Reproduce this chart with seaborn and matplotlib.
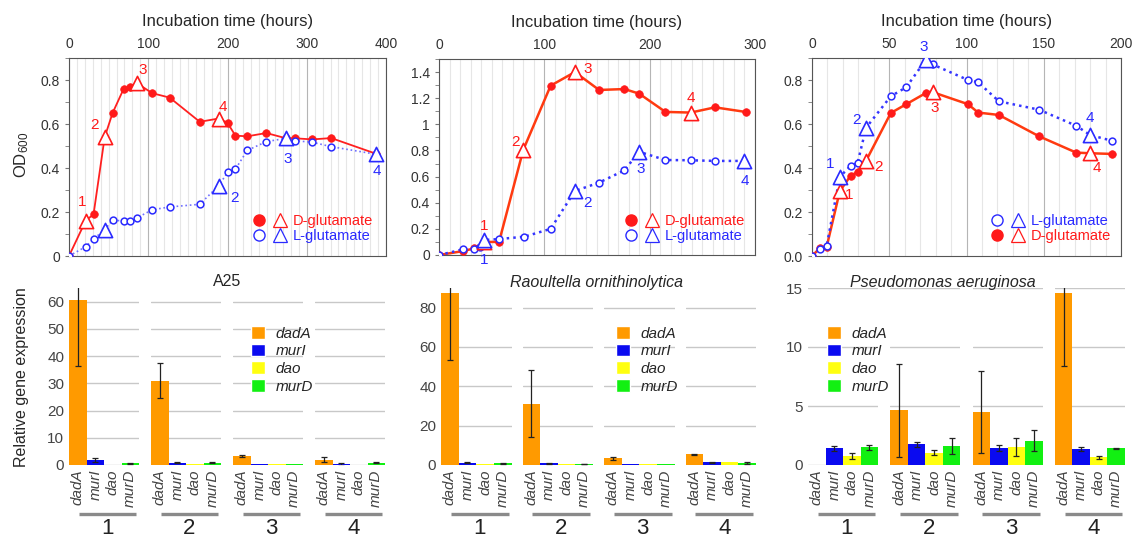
import numpy as np
import pandas as pd
import seaborn as sns
import matplotlib.pyplot as plt
import matplotlib.transforms as mtransforms
from matplotlib.lines import Line2D
from matplotlib.patches import Patch
from matplotlib.legend_handler import HandlerTuple
from matplotlib.ticker import MultipleLocator, FormatStrFormatter

# ---- growth curves (OD600 vs hours) ----
a25_time = [0, 21, 31, 45, 55, 69, 77, 86, 105, 127, 165, 189, 200, 210, 225, 249, 274, 285, 307, 331, 388]
a25_od_d = [0, .16, .19, .54, .65, .76, .77, .785, .74, .72, .61, .625, .605, .547, .544, .559, .535, .535, .53, .536, .464]
a25_od_l = [0, .042, .077, .12, .162, .16, .16, .174, .21, .223, .235, .32, .38, .395, .48, .52, .535, .524, .517, .497, .462]
a25_samples_d = [1, 3, 7, 11]
a25_samples_l = [3, 11, 16, 20]

ro_time_d = [0, 23, 33, 43, 57, 80, 106, 129, 152, 176, 190, 215, 239, 262, 291]
ro_od_d = [0, .03, .05, .1, .1, .805, 1.296, 1.4, 1.263, 1.27, 1.235, 1.095, 1.09, 1.13, 1.095]
ro_time_l = [0, 23, 33, 39, 43, 57, 81, 106, 129, 152, 176, 190, 215, 239, 262, 290]
ro_od_l = [0, .043, .043, .06, .115, .122, .14, .2, .49, .554, .648, .79, .727, .725, .72, .72]
ro_samples_d = [3, 5, 7, 12]
ro_samples_l = [4, 8, 11, 15]

pa_time = [0, 5, 9.5, 18, 25, 29.5, 35, 51, 61, 73.5, 78, 101, 107.5, 121, 147, 171, 180, 194]
pa_od_l = [0, .03, .047, .36, .41, .423, .583, .726, .767, .89, .871, .80, .79, .703, .665, .592, .55, .524]
pa_od_d = [0, .035, .042, .295, .365, .382, .433, .65, .69, .74, .745, .69, .652, .641, .544, .47, .467, .464]
pa_samples_l = [3, 6, 9, 16]
pa_samples_d = [3, 6, 10, 16]

# ---- relative gene expression at sampling points 1-4 ----
genes = ['dadA', 'murI', 'dao', 'murD']
gene_colors = ['#FF9A00', '#0A0AF0', '#FFFF10', '#12F012']

a25_expr = [[60.5, 1.8, 0, 0.7], [31, 0.9, 0.4, 0.8], [3.2, 0.3, 0.3, 0.3], [2.0, 0.2, 0.1, 0.8]]
a25_err = [[24, 0.7, 0, 0.2], [6.4, 0.2, 0, 0.2], [0.4, 0, 0, 0], [1.0, 0.5, 0, 0.2]]
ro_expr = [[87.5, 1.2, 0.3, 0.9], [31.2, 0.8, 0.5, 0.5], [3.5, 0.4, 0.4, 0.4], [5.5, 1.3, 1.7, 1.0]]
ro_err = [[34, 0.3, 0, 0.2], [17, 0.2, 0, 0.2], [0.8, 0, 0, 0], [0.2, 0.2, 0, 0.3]]
pa_expr = [[0, 1.4, 0.75, 1.5], [4.65, 1.75, 1.05, 1.6], [4.5, 1.45, 1.5, 2.05], [14.6, 1.35, 0.65, 1.4]]
pa_err = [[0, 0.2, 0.25, 0.22], [3.95, 0.2, 0.2, 0.7], [3.45, 0.25, 0.75, 0.9], [6.2, 0.15, 0.15, 0.07]]

sns.set_style('white')
plt.rcParams['font.family'] = ['Liberation Sans', 'DejaVu Sans']
plt.rcParams['mathtext.default'] = 'regular'

W, H = 1141, 539
fig = plt.figure(figsize=(W / 100, H / 100), dpi=100)


def box(l, r, t, b):
    return [l / W, 1 - b / H, (r - l) / W, (b - t) / H]


RED, BLUE = '#FF1A1A', '#2A2AFF'


def growth_panel(rect, series, xmax, xmajor, ymax, yfmt, leg_xy):
    ax = fig.add_axes(box(*rect))
    for s in series:
        df = pd.DataFrame({'t': s['t'], 'od': s['od']})
        sns.lineplot(data=df, x='t', y='od', ax=ax, color=s['line'], linestyle=s['ls'],
                     lw=s['lw'], sort=False, estimator=None, zorder=2)
        circ = df.drop(index=s['samples'])
        if s['filled']:
            sns.scatterplot(data=circ, x='t', y='od', ax=ax, marker='o', s=30,
                            color=s['color'], edgecolor=s['color'], linewidth=0.5, zorder=3)
        else:
            sns.scatterplot(data=circ, x='t', y='od', ax=ax, marker='o', s=24,
                            color='white', edgecolor=s['color'], linewidth=1.1, zorder=3)
        tri = df.loc[s['samples']]
        sns.scatterplot(data=tri, x='t', y='od', ax=ax, marker='^', s=105,
                        color='white', edgecolor=s['color'], linewidth=1.2, zorder=4)
        for k, (i, (dx, dy)) in enumerate(zip(s['samples'], s['offsets'])):
            if dx is None:
                continue
            ax.annotate(str(k + 1), (s['t'][i], s['od'][i]), xytext=(dx * 0.72, dy * 0.72),
                        textcoords='offset points', ha='center', va='center',
                        color=s['color'], fontsize=11)
    ax.set_xlim(0, xmax)
    ax.set_ylim(0, ymax)
    ax.xaxis.set_major_locator(MultipleLocator(xmajor))
    ax.xaxis.set_minor_locator(MultipleLocator(10))
    ax.yaxis.set_major_locator(MultipleLocator(0.2))
    ax.yaxis.set_minor_locator(MultipleLocator(0.1))
    ax.yaxis.set_major_formatter(FormatStrFormatter(yfmt))
    ax.grid(which='minor', axis='x', color='#E6E6E6', lw=0.8)
    ax.grid(which='major', axis='x', color='#B5B5B5', lw=0.8)
    ax.grid(axis='y', visible=False)
    ax.xaxis.tick_top()
    ax.xaxis.set_label_position('top')
    ax.set_xlabel('Incubation time (hours)', fontsize=12, labelpad=8)
    ax.set_ylabel('')
    ax.tick_params(axis='x', which='both', length=0, pad=5, labelsize=10, labelcolor='#333')
    ax.tick_params(axis='y', which='both', left=True, direction='out', length=3,
                   color='#777', labelsize=10, labelcolor='#333')
    for sp in ax.spines.values():
        sp.set_color('#555')
        sp.set_linewidth(0.8)
    handles, labels, lcols = [], [], []
    for s in series:
        if s['filled']:
            c = Line2D([], [], marker='o', ls='', mfc=s['color'], mec=s['color'], ms=8)
        else:
            c = Line2D([], [], marker='o', ls='', mfc='white', mec=s['color'], ms=8, mew=1)
        t = Line2D([], [], marker='^', ls='', mfc='white', mec=s['color'], ms=10, mew=0.9)
        handles.append((c, t))
        labels.append(s['name'])
        lcols.append(s['color'])
    order = sorted(range(len(series)), key=lambda i: series[i]['legend_rank'])
    ax.legend([handles[i] for i in order], [labels[i] for i in order],
              handler_map={tuple: HandlerTuple(ndivide=None, pad=0.5)},
              loc='upper left', bbox_to_anchor=(leg_xy[0] / W, 1 - leg_xy[1] / H),
              bbox_transform=fig.transFigure, frameon=False, fontsize=10.5,
              labelcolor=[lcols[i] for i in order], handlelength=2.4, handletextpad=0.4,
              labelspacing=0.1, borderpad=0, borderaxespad=0)
    return ax


growth_panel(
    (69, 386, 58, 256),
    [dict(t=a25_time, od=a25_od_d, samples=a25_samples_d, color=RED, line='#FF2020', ls='-', lw=1.3,
          filled=True, name='D-glutamate', legend_rank=0,
          offsets=[(-4, 19), (-10, 12), (6, 13), (4, 12)]),
     dict(t=a25_time, od=a25_od_l, samples=a25_samples_l, color=BLUE, line='#7070FF', ls=':', lw=1.2,
          filled=False, name='L-glutamate', legend_rank=1,
          offsets=[(None, None), (16, -12), (2, -21), (0, -17)])],
    400, 100, 0.9, '%g', (252, 214))

growth_panel(
    (439, 755, 59, 255),
    [dict(t=ro_time_d, od=ro_od_d, samples=ro_samples_d, color=RED, line='#FF3A10', ls='-', lw=1.8,
          filled=True, name='D-glutamate', legend_rank=0,
          offsets=[(0, 16), (-8, 8), (13, 3), (0, 15)]),
     dict(t=ro_time_l, od=ro_od_l, samples=ro_samples_l, color=BLUE, line='#3535FF', ls=':', lw=1.8,
          filled=False, name='L-glutamate', legend_rank=1,
          offsets=[(0, -20), (13, -12), (2, -17), (0, -20)])],
    300, 100, 1.5, '%g', (624, 214))

growth_panel(
    (812, 1121, 58, 256),
    [dict(t=pa_time, od=pa_od_d, samples=pa_samples_d, color=RED, line='#FF3A10', ls='-', lw=1.8,
          filled=True, name='D-glutamate', legend_rank=1,
          offsets=[(9, -4), (12, -6), (2, -16), (7, -15)]),
     dict(t=pa_time, od=pa_od_l, samples=pa_samples_l, color=BLUE, line='#3535FF', ls=':', lw=1.8,
          filled=False, name='L-glutamate', legend_rank=0,
          offsets=[(-10, 13), (-10, 8), (-2, 13), (0, 17)])],
    200, 50, 0.9, '%.1f', (990, 214))

fig.text(22 / W, 1 - 155 / H, r'OD$_{600}$', rotation=90, ha='center', va='center', fontsize=12)


def expression_panel(left, right, gap, expr, err, ymax, ystep, title, title_x, italic, leg_xy):
    gw = (right - left - 3 * gap) / 4
    for g in range(4):
        l = left + g * (gw + gap)
        ax = fig.add_axes(box(l, l + gw, 288, 465))
        ax.patch.set_alpha(0)
        df = pd.DataFrame({'gene': genes, 'value': expr[g]})
        sns.barplot(data=df, x='gene', y='value', hue='gene', palette=gene_colors, legend=False,
                    width=1.0, errorbar=None, saturation=1, linewidth=0, ax=ax, zorder=2)
        e = np.array(err[g])
        m = e > 0
        ax.errorbar(np.arange(4)[m], np.array(expr[g])[m], yerr=e[m], fmt='none',
                    ecolor='#222', elinewidth=0.9, capsize=2.5, capthick=0.9, zorder=3)
        ax.set_xlim(-0.5, 3.5)
        ax.set_ylim(0, ymax)
        ax.yaxis.set_major_locator(MultipleLocator(ystep))
        ax.grid(axis='y', color='#C8C8C8', lw=1)
        ax.grid(axis='x', visible=False)
        ax.set_axisbelow(True)
        for sp in ax.spines.values():
            sp.set_visible(False)
        ax.set_xlabel('')
        ax.set_ylabel('')
        ax.set_xticks(range(4))
        ax.set_xticklabels(genes, rotation=90, style='italic', fontsize=11, color='#444')
        ax.tick_params(axis='x', length=0, pad=3)
        ax.tick_params(axis='y', length=0, labelsize=11, labelcolor='#444', labelleft=(g == 0))
        trans = mtransforms.blended_transform_factory(ax.transAxes, fig.transFigure)
        ax.plot([0.14, 0.96], [1 - 514 / H] * 2, transform=trans, color='#8A8A8A', lw=2.4,
                clip_on=False, solid_capstyle='butt')
        ax.text(0.55, 1 - 529 / H, str(g + 1), transform=trans, ha='center', va='center',
                fontsize=16, color='#222')
    fig.text(title_x / W, 1 - 282 / H, title, ha='center', va='center', fontsize=11.5,
             style='italic' if italic else 'normal')
    fig.legend(handles=[Patch(facecolor=c, label=n) for c, n in zip(gene_colors, genes)],
               loc='upper left', bbox_to_anchor=(leg_xy[0] / W, 1 - leg_xy[1] / H),
               bbox_transform=fig.transFigure, frameon=False,
               prop={'style': 'italic', 'size': 11}, handlelength=0.9, handleheight=0.9,
               handletextpad=0.7, labelspacing=0.2, borderpad=0, borderaxespad=0)


expression_panel(69, 385, 12, a25_expr, a25_err, 65, 10, 'A25', 227, False, (251, 326))
expression_panel(441, 756, 11, ro_expr, ro_err, 90, 20, 'Raoultella ornithinolytica', 597, True, (616, 326))
expression_panel(808, 1125, 12, pa_expr, pa_err, 15, 5, 'Pseudomonas aeruginosa', 943, True, (827, 326))

fig.text(22 / W, 1 - 377 / H, 'Relative gene expression', rotation=90, ha='center', va='center',
         fontsize=11.5)

fig.savefig('out.png', dpi=100)
